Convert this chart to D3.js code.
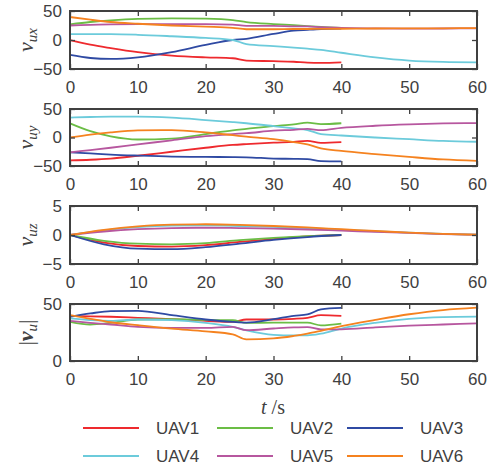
<!DOCTYPE html>
<html><head><meta charset="utf-8">
<script src="https://cdn.jsdelivr.net/npm/d3@7"></script>
<style>
body{margin:0;background:#fff;}
svg{display:block;}
.tk text{font-family:"Liberation Sans",Arial,sans-serif;font-size:17px;fill:#404040;}
</style></head><body>
<svg id="c" width="493" height="470"></svg>
<script>
const names = ["UAV1","UAV2","UAV3","UAV4","UAV5","UAV6"];
const colors = ["#ee2a2e","#6bbd45","#2f4aa3","#6ccbdb","#b7579f","#f5821f"];
const T40 = [0,3,6,10,15,20,24,26,30,33,35,37,40];
const T60 = [0,3,6,10,15,20,24,26,30,33,35,37,40,45,50,55,60];
const T40z = [0,5,10,15,20,25,30,35,40];
const T60z = [0,5,10,15,20,25,30,35,40,45,50,55,60];
const xTicks = [0,10,20,30,40,50,60];

// v_ux
const ux1 = [0,-8,-14,-21,-27,-30,-31.5,-35.5,-36.5,-37.5,-39,-39.5,-38.5];
const ux2 = [27,31,34,36.5,37.3,36.7,34.4,31,27.5,25.5,24,22.5,21];
const ux3 = [-25.7,-31,-32.7,-30,-21,-8.4,0,2,10.5,16,17.5,18.8,19.6];
const ux4 = [10,10,10,9,6.5,3.5,0,-7,-10.5,-13,-15,-17,-22,-30,-35.5,-37.8,-38.5];
const ux5 = [25,26,27,27.5,27.5,27.5,26.5,24.5,24.5,23.5,23.4,22,21,20,19.5,19.8,20];
const ux6 = [39.6,35,31,28,25,23,21,18.5,18.5,19,19,19.3,19.4,19.8,20,20.2,20.5];
// v_uy
const uy1 = [-40,-39,-37,-32,-25,-18,-13,-11.5,-9,-7.5,-6,-9.4,-8];
const uy2 = [24.7,11,2,-3.5,-2,6,12.5,15,20,23,26,23.5,25];
const uy3 = [-26,-28,-30,-31.8,-33.5,-34,-34.5,-34.7,-37,-37.5,-38,-41.5,-42];
const uy4 = [35,36,36.5,36.5,34.7,30.6,27,25,20,16,13,6,3.5,0,-3,-6,-7.5];
const uy5 = [-26,-22,-18,-12,-5,2.4,6,7.5,12,13.5,15,13,17,20.6,23,24.7,25.3];
const uy6 = [0,5,9,12.5,13,9,4,1.5,-3,-8,-12,-19,-23.5,-29,-34,-38.5,-41];
// v_uz
const uz1 = [0,-1.3,-1.9,-2.0,-1.75,-1.2,-0.7,-0.25,0];
const uz2 = [0,-1.0,-1.5,-1.6,-1.4,-0.9,-0.5,-0.2,0];
const uz3 = [0,-1.6,-2.35,-2.45,-2.1,-1.5,-0.85,-0.35,0];
const uz4 = [0,0.8,1.35,1.6,1.65,1.55,1.4,1.2,0.9,0.65,0.4,0.2,0.05];
const uz5 = [0,0.6,1.0,1.2,1.25,1.2,1.1,0.95,0.75,0.55,0.35,0.15,0.05];
const uz6 = [0,0.9,1.5,1.8,1.85,1.75,1.55,1.3,1.0,0.7,0.4,0.2,0.05];
// |v_u|
const vu1 = [39.6,39.2,38.8,37.9,36.7,35.2,34.3,36.4,36.4,37,37.9,40.2,39.5];
const vu2 = [34.3,32,33.5,36.4,36.7,36,35.8,33.4,33.7,33.7,33.7,31.2,32.8];
const vu3 = [38.8,41.7,43.8,44,40.2,36.4,34.3,33.7,36.7,39.6,40.8,45.3,46.6];
const vu4 = [37.3,35.8,35.2,36.4,35.8,33.4,29.9,26.9,23,22.5,22.5,24,28.5,33.5,37,38.5,38.9];
const vu5 = [35.2,33.5,32,29.9,29,29,29.9,27,28.5,29.5,29.8,27.8,27.8,29.5,31,32,33];
const vu6 = [40.2,37,34,31.4,28.4,26,23.4,19,19.8,22,24,26.5,30.5,36,41,44.7,46.8];

const panels = [
  {top:11, bot:69, dom:[-50,50], ticks:[-50,0,50], lab:"ux", series:[[T40,ux1],[T40,ux2],[T40,ux3],[T60,ux4],[T60,ux5],[T60,ux6]]},
  {top:109, bot:166, dom:[-50,50], ticks:[-50,0,50], lab:"uy", series:[[T40,uy1],[T40,uy2],[T40,uy3],[T60,uy4],[T60,uy5],[T60,uy6]]},
  {top:206, bot:264, dom:[-5,5], ticks:[-5,0,5], lab:"uz", series:[[T40z,uz1],[T40z,uz2],[T40z,uz3],[T60z,uz4],[T60z,uz5],[T60z,uz6]]},
  {top:304, bot:361, dom:[0,50], ticks:[0,50], lab:"abs", series:[[T40,vu1],[T40,vu2],[T40,vu3],[T60,vu4],[T60,vu5],[T60,vu6]]}
];
const svg = d3.select("#c");
const X0 = 70, X1 = 477;
const x = d3.scaleLinear().domain([0,60]).range([X0,X1]);
const axCol = "#404040";

panels.forEach((p,pi)=>{
  const y = d3.scaleLinear().domain(p.dom).range([p.bot,p.top]);
  const g = svg.append("g");
  // lines (order: draw so that later series on top)
  const line = d3.line().x(d=>x(d[0])).y(d=>y(d[1])).curve(d3.curveMonotoneX);
  const order = [5,4,3,2,1,0];
  [0,1,2,3,4,5].forEach(i=>{
    const [tt,vv] = p.series[i];
    g.append("path").datum(tt.map((t,k)=>[t,vv[k]]))
      .attr("d",line).attr("fill","none").attr("stroke",colors[i])
      .attr("stroke-width",1.8).attr("stroke-linejoin","round");
  });
  // axes
  const ab = g.append("g").attr("class","tk").attr("transform",`translate(0,${p.bot})`)
    .call(d3.axisBottom(x).tickValues(xTicks).tickSize(-5).tickPadding(12).tickFormat(d3.format("d")));
  const at = g.append("g").attr("transform",`translate(0,${p.top})`)
    .call(d3.axisTop(x).tickValues(xTicks).tickSize(-5).tickFormat(""));
  const al = g.append("g").attr("class","tk").attr("transform",`translate(${X0},0)`)
    .call(d3.axisLeft(y).tickValues(p.ticks).tickSize(-5).tickPadding(8).tickFormat(d3.format("d")));
  const ar = g.append("g").attr("transform",`translate(${X1},0)`)
    .call(d3.axisRight(y).tickValues(p.ticks).tickSize(-5).tickFormat(""));
  [ab,at,al,ar].forEach(a=>{
    a.select(".domain").remove();
    a.selectAll("line").attr("stroke",axCol).attr("stroke-width",1.3);
    a.selectAll("text").attr("fill",axCol).style("font-family","'Liberation Sans',Arial,sans-serif").style("font-size","17px");
  });
  g.append("rect").attr("x",X0).attr("y",p.top).attr("width",X1-X0).attr("height",p.bot-p.top)
    .attr("fill","none").attr("stroke",axCol).attr("stroke-width",2);
  // y label
  const cy = (p.top+p.bot)/2;
  const lt = g.append("text").attr("transform",`translate(33,${cy}) rotate(-90)`)
    .attr("text-anchor","middle").attr("fill",axCol)
    .style("font-family","'Liberation Serif','Times New Roman',serif").style("font-size","22px");
  if(p.lab==="abs"){
    lt.append("tspan").text("|");
    lt.append("tspan").style("font-style","italic").style("font-weight","bold").text("v");
    lt.append("tspan").style("font-style","italic").style("font-size","15px").attr("dy",4).text("u");
    lt.append("tspan").attr("dy",-4).text("|");
  } else {
    lt.append("tspan").style("font-style","italic").text("v");
    lt.append("tspan").style("font-style","italic").style("font-size","15px").attr("dy",4).text(p.lab);
  }
});

// x label
const xl = svg.append("text").attr("x",273).attr("y",414).attr("text-anchor","middle").attr("fill",axCol)
  .style("font-family","'Liberation Serif','Times New Roman',serif").style("font-size","20px");
xl.append("tspan").style("font-style","italic").text("t");
xl.append("tspan").text(" /s");

// legend
const legX = [83,217,347], legY = [428,456];
names.forEach((n,i)=>{
  const col = i%3, row = Math.floor(i/3);
  const lx = legX[col], ly = legY[row];
  svg.append("line").attr("x1",lx).attr("x2",lx+56).attr("y1",ly).attr("y2",ly)
    .attr("stroke",colors[i]).attr("stroke-width",2);
  svg.append("text").attr("x",lx+73).attr("y",ly).attr("dy","0.36em").attr("fill",axCol)
    .style("font-family","'Liberation Sans',Arial,sans-serif").style("font-size","17px").text(n);
});
</script></body></html>
